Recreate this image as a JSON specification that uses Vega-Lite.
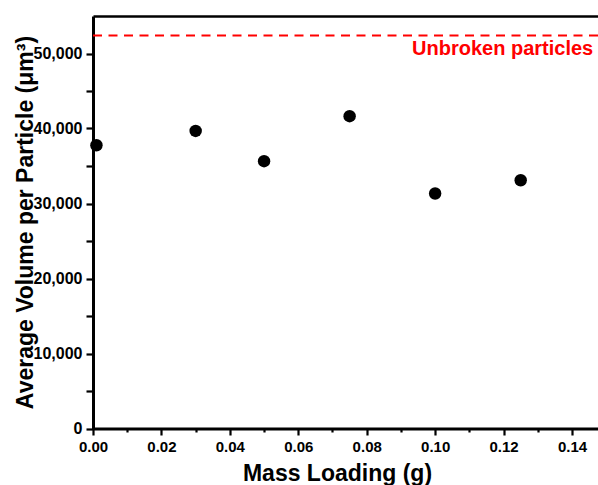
{
  "$schema": "https://vega.github.io/schema/vega-lite/v6.json",
  "autosize": "none",
  "width": 505,
  "height": 412.5,
  "padding": {"left": 93, "top": 16, "right": 0, "bottom": 56},
  "background": "white",
  "config": {
    "view": {"stroke": null},
    "font": "Liberation Sans",
    "axis": {
      "domainColor": "black",
      "domainWidth": 3,
      "tickColor": "black",
      "tickWidth": 2.2,
      "labelFont": "Liberation Sans",
      "labelFontWeight": "bold",
      "labelFontSize": 15,
      "labelColor": "black",
      "titleFont": "Liberation Sans",
      "titleFontWeight": "bold",
      "titleFontSize": 23,
      "titleColor": "black",
      "grid": false
    }
  },
  "layer": [
    {
      "data": {
        "values": [
          {"mass": 0.001, "volume": 37770},
          {"mass": 0.03, "volume": 39680},
          {"mass": 0.05, "volume": 35640},
          {"mass": 0.075, "volume": 41640},
          {"mass": 0.1, "volume": 31330},
          {"mass": 0.125, "volume": 33100}
        ]
      },
      "mark": {"type": "point", "filled": true, "shape": "circle", "size": 155, "color": "black", "opacity": 1, "clip": false},
      "encoding": {
        "x": {
          "field": "mass",
          "type": "quantitative",
          "scale": {"domain": [0, 0.1476], "nice": false, "zero": false},
          "axis": {
            "orient": "bottom",
            "title": "Mass Loading (g)",
            "values": [0, 0.01, 0.02, 0.03, 0.04, 0.05, 0.06, 0.07, 0.08, 0.09, 0.1, 0.11, 0.12, 0.13, 0.14],
            "labelExpr": "round(datum.value * 100) % 2 === 0 ? format(datum.value, '.2f') : ''",
            "tickSize": {"condition": {"test": "round(datum.value * 100) % 2 === 0", "value": 6.5}, "value": 3.5},
            "labelPadding": 4,
            "labelFlush": false,
            "labelOverlap": false,
            "titleX": 244,
            "titleY": 52,
            "titleBaseline": "alphabetic",
            "titleAlign": "center"
          }
        },
        "y": {
          "field": "volume",
          "type": "quantitative",
          "scale": {"domain": [0, 55000], "nice": false},
          "axis": {
            "orient": "left",
            "title": "Average Volume per Particle (μm³)",
            "values": [0, 2500, 5000, 7500, 10000, 12500, 15000, 17500, 20000, 22500, 25000, 27500, 30000, 32500, 35000, 37500, 40000, 42500, 45000, 47500, 50000, 52500],
            "labelExpr": "datum.value % 10000 === 0 ? format(datum.value, ',') : ''",
            "tickSize": {"condition": {"test": "datum.value % 5000 === 0", "value": 7}, "value": 3.5},
            "labelFontSize": 16,
            "labelPadding": 4,
            "labelFlush": false,
            "labelOverlap": false,
            "titleX": -61,
            "titleY": 206,
            "titleAngle": -90,
            "titleBaseline": "alphabetic",
            "titleAlign": "center"
          }
        }
      }
    },
    {
      "data": {"values": [{"y": 52400}]},
      "mark": {"type": "rule", "color": "#ff0000", "strokeWidth": 2, "strokeDash": [9, 6.5]},
      "encoding": {
        "y": {"field": "y", "type": "quantitative"}
      }
    },
    {
      "data": {"values": [{"x": 0.1462, "y": 52400, "label": "Unbroken particles"}]},
      "mark": {"type": "text", "align": "right", "baseline": "alphabetic", "dy": 19, "fontSize": 20, "fontWeight": "bold", "color": "#ff0000", "font": "Liberation Sans"},
      "encoding": {
        "x": {"field": "x", "type": "quantitative", "axis": null},
        "y": {"field": "y", "type": "quantitative"},
        "text": {"field": "label"}
      }
    },
    {
      "data": {"values": [{"mass": 0}]},
      "mark": {"type": "point", "opacity": 0},
      "encoding": {
        "x": {
          "field": "mass",
          "type": "quantitative",
          "axis": {"orient": "top", "title": null, "labels": false, "ticks": false, "domainWidth": 2.5}
        }
      }
    }
  ],
  "resolve": {"axis": {"x": "independent"}}
}
